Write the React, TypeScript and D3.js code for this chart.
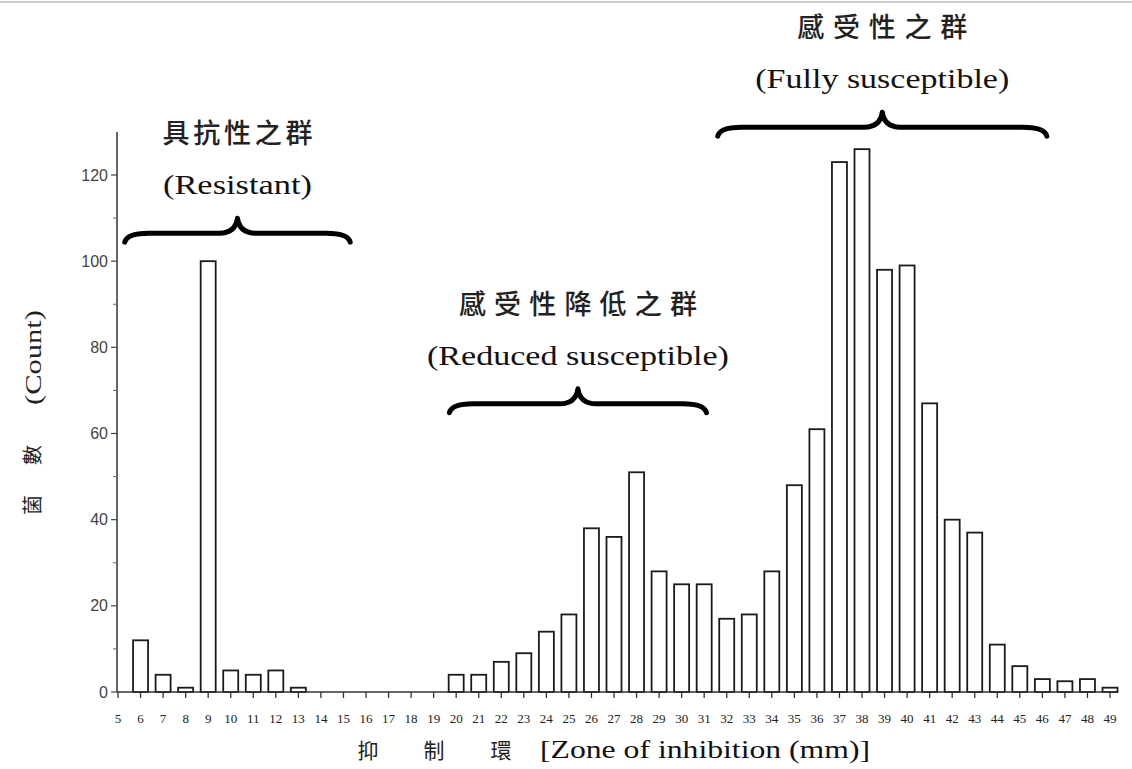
import * as d3 from "d3";

const zones = [
  5, 6, 7, 8, 9, 10, 11, 12, 13, 14, 15, 16, 17, 18, 19, 20, 21, 22, 23, 24, 25,
  26, 27, 28, 29, 30, 31, 32, 33, 34, 35, 36, 37, 38, 39, 40, 41, 42, 43, 44, 45,
  46, 47, 48, 49,
];
const counts = [
  0, 12, 4, 1, 100, 5, 4, 5, 1, 0, 0, 0, 0, 0, 0, 4, 4, 7, 9, 14, 18, 38, 36, 51,
  28, 25, 25, 17, 18, 28, 48, 61, 123, 126, 98, 99, 67, 40, 37, 11, 6, 3, 2.5, 3,
  1,
];
const yTicks = [0, 20, 40, 60, 80, 100, 120];
const yMinorTicks = [10, 30, 50, 70, 90, 110];

// groups marked with a brace: zone range, tip, and the level of the brace arms
const groupZh = ["具抗性之群", "感受性降低之群", "感受性之群"];
const groupEn = ["(Resistant)", "(Reduced susceptible)", "(Fully susceptible)"];
const groupFrom = [5.3, 19.7, 31.6];
const groupTo = [15.3, 31.1, 46.2];
const groupTip = [10.3, 25.4, 38.9];
const groupLevel = [106.5, 66.9, 131.1];

const W = 1132;
const H = 769;
const serif = "'Liberation Serif', 'Times New Roman', serif";
const cjk = "'Noto Sans CJK TC', 'Noto Sans CJK SC', sans-serif";

function bracePath(x0, x1, xm, yArm) {
  const tip = yArm - 15;
  const end = yArm + 9;
  const p = d3.path();
  p.moveTo(x0, end);
  p.quadraticCurveTo(x0 + 2, yArm, x0 + 24, yArm);
  p.lineTo(xm - 18, yArm);
  p.quadraticCurveTo(xm - 2, yArm, xm, tip);
  p.quadraticCurveTo(xm + 2, yArm, xm + 18, yArm);
  p.lineTo(x1 - 24, yArm);
  p.quadraticCurveTo(x1 - 2, yArm, x1, end);
  return p.toString();
}

export default function App() {
  const x = d3.scaleLinear().domain([5, 49]).range([118, 1110]);
  const y = d3.scaleLinear().domain([0, 120]).range([692, 175]);
  const barW = 15;
  const axisX = 117;
  const enWidths = [149, 302, 254];
  const zhWidths = [150, 238, 170];

  return (
    <div style={{ position: "absolute", left: 0, top: 0 }}>
      <svg width={W} height={H} style={{ display: "block", background: "#fff" }}>
        <line x1={0} x2={W} y1={2} y2={2} stroke="#ccc" strokeWidth={2} />

        {/* bars */}
        <g>
          {zones.map((z, i) => (
            <rect
              key={z}
              x={x(z) - barW / 2}
              y={y(counts[i])}
              width={barW}
              height={y(0) - y(counts[i])}
              fill="#fff"
              stroke="#1a1a1a"
              strokeWidth={1.8}
            />
          ))}
        </g>

        {/* y axis */}
        <g>
          <line x1={axisX} x2={axisX} y1={y(130)} y2={y(0)} stroke="#333" strokeWidth={1.5} />
          {yTicks.map((t) => (
            <g key={t}>
              <line x1={axisX - 6} x2={axisX} y1={y(t)} y2={y(t)} stroke="#444" strokeWidth={1.2} />
              <text
                x={axisX - 9}
                y={y(t)}
                textAnchor="end"
                dominantBaseline="central"
                fontFamily="'Liberation Sans', Arial, sans-serif"
                fontSize={16}
                fill="#444"
              >
                {t}
              </text>
            </g>
          ))}
          {yMinorTicks.map((t) => (
            <line key={t} x1={axisX - 4} x2={axisX} y1={y(t)} y2={y(t)} stroke="#666" strokeWidth={1} />
          ))}
        </g>

        {/* x axis */}
        <g>
          <line x1={axisX} x2={x(49) + 3} y1={y(0)} y2={y(0)} stroke="#333" strokeWidth={1.5} />
          {zones.map((z) => (
            <g key={z}>
              <line x1={x(z)} x2={x(z)} y1={y(0)} y2={y(0) + 6} stroke="#333" strokeWidth={1.3} />
              <text
                x={x(z)}
                y={y(0) + 31}
                textAnchor="middle"
                fontFamily={serif}
                fontSize={13}
                fill="#222"
              >
                {z}
              </text>
            </g>
          ))}
        </g>

        {/* axis titles */}
        <g fontFamily={cjk} fontSize={21} fill="#222">
          <text x={368} y={758} textAnchor="middle">抑</text>
          <text x={434} y={758} textAnchor="middle">制</text>
          <text x={501} y={758} textAnchor="middle">環</text>
        </g>
        <text
          x={540}
          y={758}
          fontFamily={serif}
          fontSize={25}
          fill="#111"
          textLength={330}
          lengthAdjust="spacingAndGlyphs"
        >
          [Zone of inhibition (mm)]
        </text>
        <g fontFamily={cjk} fontSize={20} fill="#222">
          <text transform="translate(40,505) rotate(-90)" textAnchor="middle">菌</text>
          <text transform="translate(40,455) rotate(-90)" textAnchor="middle">數</text>
        </g>
        <text
          transform="translate(41,405) rotate(-90)"
          fontFamily={serif}
          fontSize={24}
          fill="#222"
          textLength={95}
          lengthAdjust="spacingAndGlyphs"
        >
          (Count)
        </text>

        {/* group annotations */}
        {groupZh.map((zh, i) => {
          const yArm = y(groupLevel[i]);
          const cx = (x(groupFrom[i]) + x(groupTo[i])) / 2;
          return (
            <g key={zh}>
              <path
                d={bracePath(x(groupFrom[i]), x(groupTo[i]), x(groupTip[i]), yArm)}
                fill="none"
                stroke="#000"
                strokeWidth={5}
                strokeLinecap="round"
                strokeLinejoin="round"
              />
              <text
                x={cx - zhWidths[i] / 2}
                y={yArm - 90}
                fontFamily={cjk}
                fontSize={27}
                fontWeight={500}
                fill="#222"
                textLength={zhWidths[i]}
                lengthAdjust="spacing"
              >
                {zh}
              </text>
              <text
                x={cx - enWidths[i] / 2}
                y={yArm - 39}
                fontFamily={serif}
                fontSize={28}
                fill="#111"
                textLength={enWidths[i]}
                lengthAdjust="spacingAndGlyphs"
              >
                {groupEn[i]}
              </text>
            </g>
          );
        })}
      </svg>
    </div>
  );
}
